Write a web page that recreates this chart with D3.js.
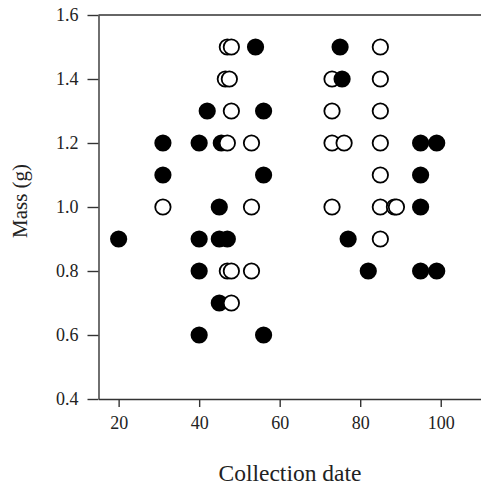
<!DOCTYPE html>
<html>
<head>
<meta charset="utf-8">
<script src="https://cdn.jsdelivr.net/npm/d3@7"></script>
<style>
    body { margin: 0; background: #fff; }
</style>
</head>
<body>
<div id="chart"></div>
<script>
// Filled circles
const filledDate = [20, 31, 31, 40, 40, 40, 40, 42, 45, 45, 45, 45.5, 47, 54, 56, 56, 56, 75, 75.5, 77, 82, 95, 95, 95, 95, 99, 99];
const filledMass = [0.9, 1.2, 1.1, 1.2, 0.9, 0.8, 0.6, 1.3, 1.0, 0.9, 0.7, 1.2, 0.9, 1.5, 1.3, 1.1, 0.6, 1.5, 1.4, 0.9, 0.8, 1.2, 1.1, 1.0, 0.8, 1.2, 0.8];

// Open circles
const openDate = [31, 47, 48, 46.5, 47.5, 48, 47, 53, 53, 47, 48, 53, 48, 73, 85, 85, 73, 85, 73, 76, 85, 85, 73, 85, 88.5, 89, 85];
const openMass = [1.0, 1.5, 1.5, 1.4, 1.4, 1.3, 1.2, 1.2, 1.0, 0.8, 0.8, 0.8, 0.7, 1.4, 1.5, 1.4, 1.3, 1.3, 1.2, 1.2, 1.2, 1.1, 1.0, 1.0, 1.0, 1.0, 0.9];

const xTicks = [20, 40, 60, 80, 100];
const yTicks = [0.4, 0.6, 0.8, 1.0, 1.2, 1.4, 1.6];

const width = 481, height = 489;
const plot = {left: 98.5, right: 481, top: 15, bottom: 399};
const serif = '"Liberation Serif", "Times New Roman", "DejaVu Serif", serif';

const svg = d3.select('#chart').append('svg')
    .attr('width', width)
    .attr('height', height)
    .attr('font-family', serif);

const x = d3.scaleLinear().domain([15, 110]).range([plot.left, plot.right]);
const y = d3.scaleLinear().domain([0.4, 1.6]).range([plot.bottom, plot.top]);

// Combine and draw in date order so overlaps stack like the original
const points = filledDate.map((d, i) => ({date: d, mass: filledMass[i], filled: true}))
    .concat(openDate.map((d, i) => ({date: d, mass: openMass[i], filled: false})))
    .sort((a, b) => a.date - b.date);

svg.selectAll('.pt')
    .data(points)
    .enter().append('circle')
    .attr('class', 'pt')
    .attr('cx', d => x(d.date))
    .attr('cy', d => y(d.mass))
    .attr('r', d => d.filled ? 8.6 : 7.7)
    .style('fill', d => d.filled ? '#000' : '#fff')
    .style('stroke', d => d.filled ? 'none' : '#000')
    .style('stroke-width', 1.8);

// Top frame line
svg.append('line')
    .attr('x1', plot.left).attr('x2', plot.right)
    .attr('y1', y(1.6)).attr('y2', y(1.6))
    .style('stroke', '#333').style('stroke-width', 1.4);

// Y axis
const yAxis = svg.append('g')
    .attr('transform', `translate(${plot.left},0)`)
    .call(d3.axisLeft(y).tickValues(yTicks).tickFormat(d3.format('.1f'))
        .tickSize(11).tickSizeOuter(0).tickPadding(9));

// X axis
const xAxis = svg.append('g')
    .attr('transform', `translate(0,${plot.bottom})`)
    .call(d3.axisBottom(x).tickValues(xTicks)
        .tickSize(8).tickSizeOuter(0).tickPadding(9));

[yAxis, xAxis].forEach(g => {
    g.attr('font-family', serif).attr('font-size', 18);
    g.select('.domain').style('stroke', '#333').style('stroke-width', 1.4);
    g.selectAll('.tick line').style('stroke', '#333').style('stroke-width', 1.4);
    g.selectAll('.tick text').style('fill', '#222');
});

// Axis titles
svg.append('text')
    .attr('x', 290)
    .attr('y', 481)
    .attr('font-size', 23.5)
    .style('fill', '#222')
    .style('text-anchor', 'middle')
    .text('Collection date');

svg.append('text')
    .attr('transform', 'translate(27,201) rotate(-90)')
    .attr('font-size', 21)
    .style('fill', '#222')
    .style('text-anchor', 'middle')
    .text('Mass (g)');
</script>
</body>
</html>
